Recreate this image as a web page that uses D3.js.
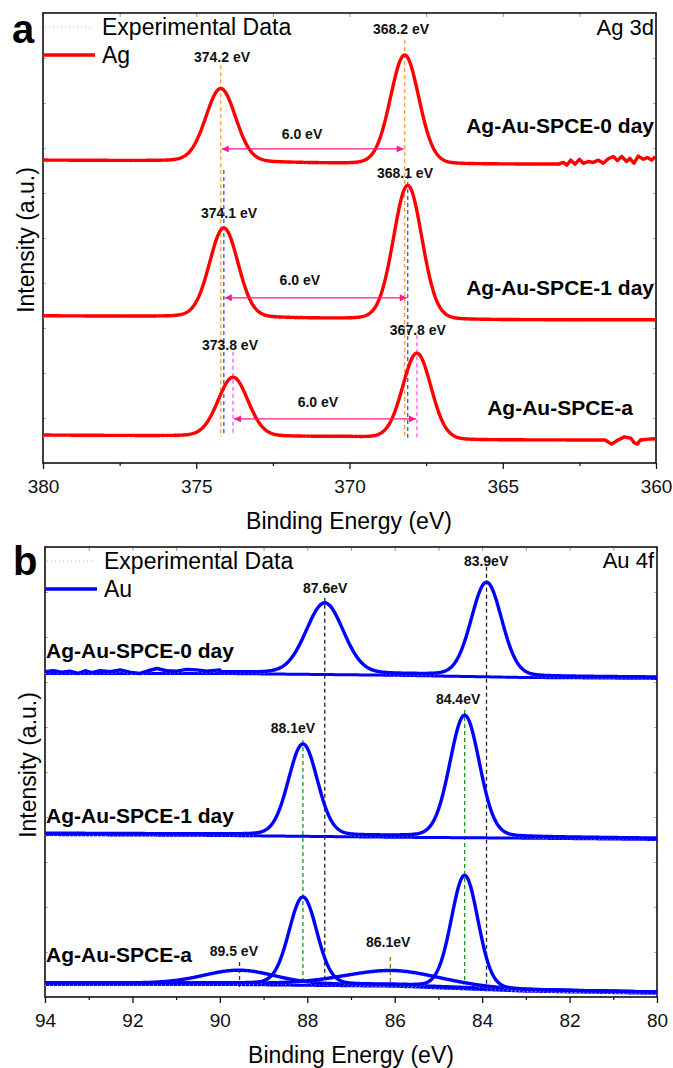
<!DOCTYPE html>
<html><head><meta charset="utf-8">
<script src="https://cdn.jsdelivr.net/npm/d3@7"></script>
<style>
body{margin:0;background:#fff}
svg{display:block;font-family:Arial,"Liberation Sans",sans-serif}
</style>
</head><body>
<svg id="chart" width="673" height="1068"></svg>
<script>
// ================= DATA : panel a (Ag 3d) =================
const agSamples = ["Ag-Au-SPCE-0 day", "Ag-Au-SPCE-1 day", "Ag-Au-SPCE-a"];
const agMajorTicks = [380, 375, 370, 365, 360];
const agMinorTicks = [377.5, 372.5, 367.5, 362.5];
const agPeakCenters = [[374.2, 368.2], [374.1, 368.1], [373.8, 367.8]];
const agPeakHeights = [[16.2, 24.2], [19.8, 29.8], [13.1, 19.1]];
const agPeakFWHM = [[1.15, 1.1], [1.1, 1.1], [1.15, 1.1]];
const agBaseE = [380, 375, 370, 367, 360];
const agBaseI = [[67.3, 67.1, 66.5, 66.4, 66.4], [32.7, 32.5, 32.0, 31.8, 31.8], [6.2, 6.0, 5.8, 5.1, 5.1]];
// noisy tails
const agNoise0E = [363.13, 363.02, 362.91, 362.78, 362.64, 362.50, 362.37, 362.21, 362.05, 361.88, 361.72, 361.56, 361.39, 361.26, 361.12, 360.96, 360.85, 360.72, 360.58, 360.41, 360.28, 360.14, 360.03];
const agNoise0I = [66.6, 66.8, 66.2, 67.3, 66.4, 67.5, 66.6, 67.0, 66.8, 67.3, 66.6, 67.6, 68.1, 67.2, 68.1, 67.0, 67.7, 66.6, 68.2, 67.5, 67.9, 67.3, 68.1];
const agNoise2E = [361.66, 361.45, 361.24, 361.03, 360.82, 360.71, 360.61, 360.51, 360.26, 360.01];
const agNoise2I = [5.1, 4.2, 5.1, 5.8, 5.5, 4.5, 4.2, 5.1, 5.3, 5.4];
const agPeakLabels = ["374.2 eV", "368.2 eV", "374.1 eV", "368.1 eV", "373.8 eV", "367.8 eV"];
const agSplitLabel = "6.0 eV";

// ================= DATA : panel b (Au 4f) =================
const auSamples = ["Ag-Au-SPCE-0 day", "Ag-Au-SPCE-1 day", "Ag-Au-SPCE-a"];
const auMajorTicks = [94, 92, 90, 88, 86, 84, 82, 80];
const auMinorTicks = [93, 91, 89, 87, 85, 83, 81];
const auPeakCenters = [[87.6, 83.9], [88.1, 84.4], [88.1, 84.4]];
const auPeakHeights = [[15.6, 20.7], [20.2, 26.9], [19.3, 24.9]];
const auPeakFWHM = [[1.0, 0.82], [0.78, 0.8], [0.75, 0.72]];
const auBaseE = [94, 90, 86, 83, 80];
const auBaseI = [[72.2, 72.2, 71.8, 71.3, 71.1], [36.4, 36.2, 35.8, 35.6, 35.3], [3.1, 3.1, 2.7, 1.6, 1.1]];
const auBroadCenters = [89.55, 86.05];
const auBroadHeights = [2.9, 3.2];
const auBroadFWHM = [1.9, 2.6];
const auNoise0E = [94.0, 93.81, 93.62, 93.43, 93.24, 93.08, 92.93, 92.74, 92.51, 92.28, 92.06, 91.83, 91.64, 91.44, 91.22, 90.99, 90.76, 90.53, 90.30, 90.0];
const auNoise0I = [72.3, 72.5, 72.2, 72.4, 71.9, 72.5, 72.1, 72.5, 72.3, 72.7, 72.2, 71.9, 72.5, 73.0, 72.5, 72.4, 72.8, 72.7, 72.4, 72.7];
const auPeakLabels = ["87.6eV", "83.9eV", "88.1eV", "84.4eV", "89.5 eV", "86.1eV"];

// ================= helpers =================
const svg = d3.select("#chart");
const ETA = 0.1;
function pv(E, c, h, w) {
  const t = (E - c) / w;
  return h * (ETA / (1 + 4 * t * t) + (1 - ETA) * Math.exp(-4 * Math.LN2 * t * t));
}
function baseFn(baseE, baseI) {
  const s = d3.scaleLinear().domain(baseE).range(baseI);
  return E => s(E);
}
function fitSeries(domain, base, centers, heights, fwhm, stopAt, noiseE, noiseI) {
  const pts = [];
  const [e0, e1] = domain;
  const step = (e1 - e0) / 800;
  for (let i = 0; i <= 800; i++) {
    const E = e0 + i * step;
    if (stopAt && ((step < 0 && E < stopAt.lo) || (step > 0 && E > stopAt.hi))) continue;
    if (stopAt && stopAt.skipHi !== undefined && E > stopAt.skipHi) continue;
    let v = base(E);
    centers.forEach((c, k) => { v += pv(E, c, heights[k], fwhm[k]); });
    pts.push([E, v]);
  }
  if (noiseE) {
    const np = noiseE.map((e, k) => [e, noiseI[k]]);
    return (noiseE[0] > pts[0][0]) ? np.concat(pts) : pts.concat(np);
  }
  return pts;
}

const defs = svg.append("defs");
defs.append("marker").attr("id", "ah").attr("viewBox", "0 0 10 10")
  .attr("refX", 10).attr("refY", 5).attr("markerWidth", 10).attr("markerHeight", 7)
  .attr("markerUnits", "userSpaceOnUse").attr("orient", "auto-start-reverse")
  .append("path").attr("d", "M0,0 L10,5 L0,10 Z").attr("fill", "#ff1a8c");

function drawFrame(g, x, y, major, minor) {
  const [x0, x1] = x.range();
  const [yb, yt] = y.range();
  // bottom axis (outward ticks)
  const bot = g.append("g").attr("transform", `translate(0,${yb})`)
    .call(d3.axisBottom(x).tickValues(major).tickSize(6).tickPadding(11).tickFormat(d3.format("d")));
  bot.select(".domain").remove();
  bot.selectAll("text").attr("font-size", 19).attr("fill", "#111");
  bot.selectAll("line").attr("stroke", "#111").attr("stroke-width", 1.3);
  const botm = g.append("g").attr("transform", `translate(0,${yb})`)
    .call(d3.axisBottom(x).tickValues(minor).tickSize(3).tickFormat(""));
  botm.select(".domain").remove();
  botm.selectAll("line").attr("stroke", "#111").attr("stroke-width", 1.2);
  // top axis (inward ticks)
  const top = g.append("g").attr("transform", `translate(0,${yt})`)
    .call(d3.axisTop(x).tickValues(major.concat(minor)).tickSize(-4).tickFormat(""));
  top.select(".domain").remove();
  top.selectAll("line").attr("stroke", "#999").attr("stroke-width", 1);
  // y ticks (inward, faint)
  const yt10 = d3.range(10, 100, 10);
  const l = g.append("g").attr("transform", `translate(${x0},0)`)
    .call(d3.axisRight(y).tickValues(yt10).tickSize(3).tickFormat(""));
  l.select(".domain").remove(); l.selectAll("line").attr("stroke", "#aaa");
  const r = g.append("g").attr("transform", `translate(${x1},0)`)
    .call(d3.axisLeft(y).tickValues(yt10).tickSize(3).tickFormat(""));
  r.select(".domain").remove(); r.selectAll("line").attr("stroke", "#aaa");
  g.append("rect").attr("x", x0).attr("y", yt).attr("width", x1 - x0).attr("height", yb - yt)
    .attr("fill", "none").attr("stroke", "#111").attr("stroke-width", 1.6);
}

function drawSpectrum(g, x, y, pts, color) {
  const line = d3.line().x(d => x(d[0])).y(d => y(d[1]));
  g.append("path").attr("d", line(pts)).attr("fill", "none")
    .attr("stroke", "#c8c8c8").attr("stroke-width", 1).attr("stroke-dasharray", "1,3")
    .attr("transform", "translate(0,2)");
  g.append("path").attr("d", line(pts)).attr("fill", "none")
    .attr("stroke", color).attr("stroke-width", 3.4).attr("stroke-linejoin", "round");
}
function vdash(g, x, y, E, i0, i1, color) {
  g.append("line").attr("x1", x(E)).attr("x2", x(E)).attr("y1", y(i0)).attr("y2", y(i1))
    .attr("stroke", color).attr("stroke-width", 1.3).attr("stroke-dasharray", "4,3");
}
function label(g, x, y, E, I, txt, size, anchor, weight) {
  g.append("text").attr("x", x(E)).attr("y", y(I)).attr("text-anchor", anchor || "middle")
    .attr("font-size", size).attr("font-weight", weight || "bold").attr("fill", "#111").text(txt);
}

// ================= PANEL A =================
const xA = d3.scaleLinear().domain([380, 360]).range([43, 656]);
const yA = d3.scaleLinear().domain([0, 100]).range([463, 13]);
const gA = svg.append("g");
drawFrame(gA, xA, yA, agMajorTicks, agMinorTicks);

// dashed guide lines
const agDash = [
  [agPeakCenters[0][0], 88.4, 5.8, "#f5a040"], [agPeakCenters[0][1], 94.0, 5.8, "#f5a040"],
  [agPeakCenters[1][0], 65.1, 6.2, "#3050ff"], [agPeakCenters[1][1], 64.0, 5.6, "#3050ff"],
  [agPeakCenters[2][0], 24.7, 6.2, "#ff55ff"], [agPeakCenters[2][1], 28.4, 5.1, "#ff55ff"]
];
agDash.forEach(d => vdash(gA, xA, yA, d[0], d[1], d[2], d[3]));

const agNoise = [[agNoise0E, agNoise0I], [null, null], [agNoise2E, agNoise2I]];
agSamples.forEach((s, k) => {
  const base = baseFn(agBaseE, agBaseI[k]);
  const ne = agNoise[k][0];
  const stop = ne ? { lo: ne[0] + 0.01 } : null;
  const pts = fitSeries([380, 360], base, agPeakCenters[k], agPeakHeights[k], agPeakFWHM[k], stop, ne, agNoise[k][1]);
  drawSpectrum(gA, xA, yA, pts, "#ff0000");
});

// 6.0 eV arrows
const agArrowI = [69.8, 36.7, 9.8];
const agArrowLabelPos = [[371.55, 70.4], [371.62, 38.0], [371.03, 10.9]];
agSamples.forEach((s, k) => {
  const eL = agPeakCenters[k][0], eR = agPeakCenters[k][1];
  gA.append("line").attr("x1", xA(eL) + 1).attr("x2", xA(eR) - 1)
    .attr("y1", yA(agArrowI[k])).attr("y2", yA(agArrowI[k]))
    .attr("stroke", "#ff1a8c").attr("stroke-width", 1.3)
    .attr("marker-start", "url(#ah)").attr("marker-end", "url(#ah)");
  label(gA, xA, yA, agArrowLabelPos[k][0], agArrowLabelPos[k][1] + 1.5, agSplitLabel, 14);
});
// peak labels
const agLabelPos = [[374.16, 89.1], [368.32, 95.3], [373.93, 54.4], [368.19, 63.3], [373.9, 25.1], [367.77, 28.4]];
agPeakLabels.forEach((t, i) => label(gA, xA, yA, agLabelPos[i][0], agLabelPos[i][1], t, 14));

// sample names
gA.append("text").attr("x", 654).attr("y", 133).attr("text-anchor", "end").attr("font-size", 21).attr("font-weight", "bold").text(agSamples[0]);
gA.append("text").attr("x", 654).attr("y", 295).attr("text-anchor", "end").attr("font-size", 21).attr("font-weight", "bold").text(agSamples[1]);
gA.append("text").attr("x", 633).attr("y", 415).attr("text-anchor", "end").attr("font-size", 21).attr("font-weight", "bold").text(agSamples[2]);
gA.append("text").attr("x", 654).attr("y", 35).attr("text-anchor", "end").attr("font-size", 22).text("Ag 3d");
// legend
gA.append("line").attr("x1", 45).attr("x2", 93).attr("y1", 27).attr("y2", 27).attr("stroke", "#bbb").attr("stroke-width", 1.2).attr("stroke-dasharray", "1,3");
gA.append("text").attr("x", 102).attr("y", 35).attr("font-size", 23).text("Experimental Data");
gA.append("line").attr("x1", 43).attr("x2", 95).attr("y1", 55).attr("y2", 55).attr("stroke", "#ff0000").attr("stroke-width", 3.4);
gA.append("text").attr("x", 102).attr("y", 63).attr("font-size", 23).text("Ag");
gA.append("text").attr("x", 12).attr("y", 43).attr("font-size", 40).attr("font-weight", "bold").text("a");
gA.append("text").attr("x", 349).attr("y", 529).attr("text-anchor", "middle").attr("font-size", 23).text("Binding Energy (eV)");
gA.append("text").attr("transform", "translate(34,240) rotate(-90)").attr("text-anchor", "middle").attr("font-size", 23).text("Intensity (a.u.)");

// ================= PANEL B =================
const xB = d3.scaleLinear().domain([94, 80]).range([45, 657]);
const yB = d3.scaleLinear().domain([0, 100]).range([997, 547]);
const gB = svg.append("g");
drawFrame(gB, xB, yB, auMajorTicks, auMinorTicks);

const auDash = [
  [auPeakCenters[0][0], 88.7, 2.0, "#222"], [auPeakCenters[0][1], 95.6, 2.7, "#222"],
  [auPeakCenters[1][0], 57.1, 3.3, "#1a9a1a"], [auPeakCenters[1][1], 63.8, 3.1, "#1a9a1a"],
  [auBroadCenters[0], 7.8, 2.0, "#aa0000"], [86.1, 8.9, 2.9, "#8a7a10"]
];
auDash.forEach(d => vdash(gB, xB, yB, d[0], d[1], d[2], d[3]));

auSamples.forEach((s, k) => {
  const base = baseFn(auBaseE, auBaseI[k]);
  let pts;
  if (k === 0) {
    pts = fitSeries([90, 80], base, auPeakCenters[k], auPeakHeights[k], auPeakFWHM[k], null, null, null);
    pts = auNoise0E.map((e, j) => [e, auNoise0I[j]]).concat(pts);
  } else {
    pts = fitSeries([94, 80], base, auPeakCenters[k], auPeakHeights[k], auPeakFWHM[k], null, null, null);
  }
  // background line
  const bg = d3.range(0, 201).map(j => { const E = 94 - j * 14 / 200; return [E, base(E) - 0.3]; });
  const line = d3.line().x(d => xB(d[0])).y(d => yB(d[1]));
  gB.append("path").attr("d", line(bg)).attr("fill", "none").attr("stroke", "#0000ff").attr("stroke-width", 3);
  if (k === 2) {
    auBroadCenters.forEach((c, j) => {
      const bp = fitSeries([94, 80], base, [c], [auBroadHeights[j]], [auBroadFWHM[j]], null, null, null);
      drawSpectrum(gB, xB, yB, bp, "#0000ff");
    });
  }
  drawSpectrum(gB, xB, yB, pts, "#0000ff");
});

const auLabelPos = [[87.59, 89.8], [83.91, 95.8], [88.33, 58.7], [84.55, 65.1], [89.68, 9.1], [86.15, 11.1]];
auPeakLabels.forEach((t, i) => label(gB, xB, yB, auLabelPos[i][0], auLabelPos[i][1], t, 14));

gB.append("text").attr("x", 46).attr("y", 658).attr("font-size", 21).attr("font-weight", "bold").text(auSamples[0]);
gB.append("text").attr("x", 46).attr("y", 823).attr("font-size", 21).attr("font-weight", "bold").text(auSamples[1]);
gB.append("text").attr("x", 46).attr("y", 962).attr("font-size", 21).attr("font-weight", "bold").text(auSamples[2]);
gB.append("text").attr("x", 654).attr("y", 568).attr("text-anchor", "end").attr("font-size", 22).text("Au 4f");
gB.append("line").attr("x1", 47).attr("x2", 95).attr("y1", 561).attr("y2", 561).attr("stroke", "#bbb").attr("stroke-width", 1.2).attr("stroke-dasharray", "1,3");
gB.append("text").attr("x", 104).attr("y", 569).attr("font-size", 23).text("Experimental Data");
gB.append("line").attr("x1", 45).attr("x2", 97).attr("y1", 589).attr("y2", 589).attr("stroke", "#0000ff").attr("stroke-width", 3.4);
gB.append("text").attr("x", 104).attr("y", 597).attr("font-size", 23).text("Au");
gB.append("text").attr("x", 13).attr("y", 575).attr("font-size", 40).attr("font-weight", "bold").text("b");
gB.append("text").attr("x", 351).attr("y", 1063).attr("text-anchor", "middle").attr("font-size", 23).text("Binding Energy (eV)");
gB.append("text").attr("transform", "translate(36,765) rotate(-90)").attr("text-anchor", "middle").attr("font-size", 23).text("Intensity (a.u.)");
</script>
</body></html>
